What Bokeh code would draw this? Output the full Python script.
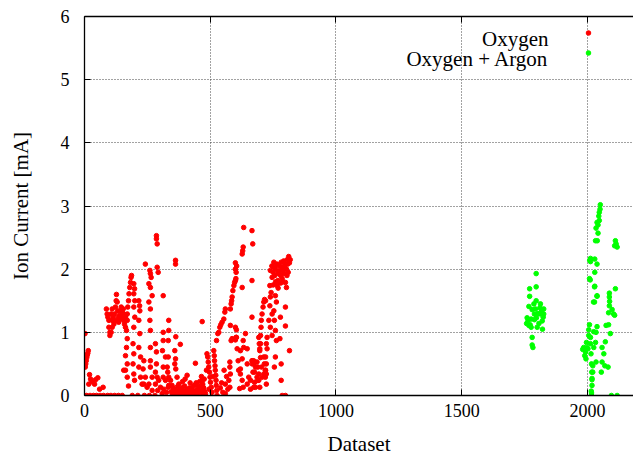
from bokeh.plotting import figure
from bokeh.models import Range1d, LinearAxis, Label, FixedTicker
from bokeh.embed import file_html
from bokeh.resources import INLINE

# ---------------- data ----------------
series_names = ["Oxygen", "Oxygen + Argon"]
x_ticks = [0, 500, 1000, 1500, 2000]
y_ticks = [0, 1, 2, 3, 4, 5, 6]

red_x = [
    0, 2, 3, 5, 7, 9, 11, 13, 15, 8, 17, 20, 22, 24, 30, 36, 40, 44, 48, 53, 60, 62, 74, 76,
    87, 90, 93, 97, 97, 101, 101, 106, 110, 110, 114, 117, 120, 123, 126, 127, 130, 132, 136, 140,
    143, 146, 150, 152, 156, 159, 156, 154, 110, 106, 136, 127, 143, 163, 163, 92, 105, 120, 135, 150,
    170, 172, 175, 177, 180, 183, 185, 187, 170, 167, 170, 167, 163, 170, 163, 170, 156, 175,
    196, 199, 196, 200, 196, 200, 196, 193, 196, 193, 196, 199, 190,
    216, 219, 220, 216, 220, 216, 223, 216, 223, 229, 212,
    236, 233, 242, 236, 249, 238,
    242, 256, 260, 262, 265, 262, 269, 256, 262, 260, 262, 262, 262, 262, 269, 256, 269, 258,
    286, 286, 289, 289, 293, 282, 286, 286, 282, 289, 282, 295, 302, 291, 280,
    313, 313, 313, 322, 331, 335, 315, 326, 309, 335, 335, 322, 329, 335, 342, 348, 333, 355,
    313, 313, 333, 363, 381, 359, 310, 333, 362, 359, 363, 408, 441, 468, 441, 362, 362,
    345, 350, 352, 358, 362, 366, 368, 370, 372, 375, 378, 380, 384, 388, 392, 396, 398, 402, 405,
    408, 412, 415, 418, 422, 425, 428, 432, 435, 438, 442, 444, 448, 452, 455, 458, 462, 465, 468,
    470, 474, 476, 478, 390, 420, 400,
    468, 472, 481, 487, 490, 492, 494, 497, 499, 501, 504, 507, 485, 495,
    514, 516, 517, 519, 520, 522, 523, 524, 526, 527, 510,
    525, 530, 534, 538, 542, 547, 554, 558, 560, 580, 583, 585, 587, 590, 594, 597, 600, 602,
    600, 603, 600, 605,
    580, 583, 578, 578, 580, 574, 578, 560, 560, 565, 570, 545, 550, 555, 540,
    604, 604, 600, 587,
    620, 627, 620, 620, 627, 631, 617, 633, 631, 640, 647, 647, 653, 647, 660, 666, 673, 670, 676,
    680, 660,
    627, 629, 631, 627, 633, 666, 669, 666, 666, 667, 667, 673, 680, 676, 686, 673,
    600, 603, 607, 611, 613,
    686, 689, 693, 693, 697, 689, 713, 715, 719, 719, 723, 713,
    697, 700, 700, 702, 703, 706, 710, 713, 716, 720,
    693, 695, 697, 700, 704, 706, 720, 723, 720, 723, 726, 723, 726,
    733, 737, 739, 742, 737, 746, 739, 753, 755, 746, 739, 746, 759, 763, 753, 755, 759, 763, 759, 755,
    766, 769, 773, 777, 782, 786, 792, 806, 812, 799, 803, 792, 786, 799, 803,
    799, 799, 779, 777, 782, 815, 782, 786, 799,
    745, 750, 757, 760, 765, 770, 775, 780, 790, 795, 808, 810, 750, 760, 770, 780, 790, 805, 815, 818,
]
red_y = [
    0.0, 0.98, 0.45, 0.5, 0.55, 0.6, 0.64, 0.67, 0.71, 0.0, 0.18, 0.33, 0.0, 0.26, 0.22, 0.0, 0.18, 0.25, 0.0, 0.28, 0.1, 0.0, 0.13, 0.0,
    1.37, 1.29, 1.24, 1.19, 1.08, 1.0, 0.95, 1.29, 1.37, 1.19, 1.24, 1.13, 1.29, 1.4, 1.5, 1.6, 1.48, 1.34, 1.24, 1.27,
    1.34, 1.4, 1.32, 1.24, 1.19, 1.13, 1.29, 1.37, 1.08, 1.0, 1.16, 1.19, 1.21, 1.08, 1.24, 0.0, 0.0, 0.0, 0.0, 0.0,
    1.29, 1.4, 1.5, 1.61, 1.71, 1.79, 1.87, 1.9, 1.19, 1.03, 0.9, 0.76, 0.63, 0.5, 0.4, 0.29, 0.4, 0.15,
    1.77, 1.69, 1.61, 1.5, 1.4, 1.24, 1.08, 0.82, 0.66, 0.5, 0.34, 0.24, 0.0,
    1.5, 1.42, 1.34, 1.19, 0.98, 0.76, 0.61, 0.45, 0.29, 0.18, 0.0,
    0.55, 0.42, 0.29, 0.18, 0.13, 0.0,
    2.08, 1.77, 1.98, 1.93, 1.87, 1.71, 1.58, 1.48, 1.37, 1.19, 1.03, 0.76, 0.55, 0.45, 0.29, 0.18, 0.08, 0.0,
    2.53, 2.48, 2.4, 2.03, 1.95, 0.82, 0.69, 0.5, 0.37, 0.29, 0.18, 0.24, 0.13, 0.08, 0.0,
    1.58, 0.45, 0.29, 0.24, 0.37, 0.16, 0.1, 0.05, 0.03, 1.19, 1.03, 0.61, 0.45, 0.29, 0.24, 0.16, 0.13, 0.1,
    1.0, 0.87, 0.87, 0.93, 0.81, 0.71, 0.71, 0.61, 0.58, 0.5, 0.42, 0.32, 0.51, 1.17, 0.17, 2.14, 2.08,
    0.06, 0.02, 0.12, 0.04, 0.08, 0.02, 0.29, 0.14, 0.05, 0.18, 0.0, 0.09, 0.03, 0.12, 0.05, 0.0, 0.15, 0.07, 0.02,
    0.1, 0.04, 0.0, 0.12, 0.06, 0.02, 0.09, 0.15, 0.03, 0.07, 0.0, 0.2, 0.1, 0.04, 0.14, 0.22, 0.08, 0.3, 0.03,
    0.18, 0.12, 0.26, 0.06, 0.22, 0.2, 0.26,
    0.24, 0.13, 0.03, 0.66, 0.61, 0.53, 0.45, 0.37, 0.29, 0.21, 0.13, 0.05, 0.4, 0.1,
    0.71, 0.63, 0.55, 0.47, 0.4, 0.32, 0.24, 0.16, 0.08, 0.0, 0.3,
    0.87, 0.98, 1.0, 1.08, 1.12, 1.16, 1.21, 1.32, 1.37, 1.37, 1.45, 1.5, 1.56, 1.66, 1.74, 1.79, 1.82, 1.85,
    2.0, 1.95, 2.1, 2.05,
    1.11, 0.87, 0.53, 0.45, 0.34, 0.24, 0.13, 0.18, 0.03, 0.3, 0.1, 0.2, 0.05, 0.4, 0.12,
    1.04, 0.92, 0.88, 0.9,
    0.71, 0.58, 0.42, 0.34, 0.24, 0.13, 0.11, 0.76, 0.87, 0.98, 0.74, 0.5, 0.29, 0.18, 0.24, 0.55, 0.5, 0.37, 0.21,
    0.13, 0.1,
    1.71, 2.29, 2.35, 2.24, 2.66, 2.61, 2.4, 1.82, 1.24, 0.55, 0.5, 0.55, 0.45, 0.37, 0.29, 0.13,
    1.08, 0.92, 0.74, 0.55, 0.4,
    0.53, 0.45, 0.34, 0.24, 0.13, 0.24, 0.61, 0.5, 0.4, 0.29, 0.18, 0.34,
    0.71, 0.82, 0.95, 1.08, 1.19, 1.29, 1.4, 1.48, 1.52, 1.5,
    0.92, 0.82, 0.74, 0.6, 0.45, 0.29, 0.61, 0.5, 0.4, 0.34, 0.92, 0.82, 0.74,
    1.19, 1.42, 1.56, 1.63, 1.74, 1.87, 1.98, 2.11, 2.03, 1.29, 1.08, 0.95, 1.58, 1.48, 1.34, 1.19, 1.03, 0.87, 0.61, 0.45,
    1.74, 1.82, 1.93, 1.98, 2.11, 2.03, 2.13, 2.15, 2.2, 2.08, 2.0, 1.93, 1.85, 1.79, 1.71,
    1.4, 1.1, 1.24, 0.9, 0.5, 0.71, 0.24, 0.0, 0.0,
    2.05, 1.95, 1.9, 2.0, 2.08, 1.95, 2.05, 1.9, 1.98, 2.05, 2.08, 1.95, 1.75, 1.8, 1.7, 1.78, 1.8, 1.9, 2.1, 2.15,
]

green_x = [
    1796, 1770, 1796, 1770, 1796, 1787, 1767, 1813, 1780, 1793, 1811, 1826, 1789, 1813, 1826, 1760, 1776,
    1797, 1824, 1758, 1789, 1820, 1776, 1800, 1821, 1767, 1807, 1780, 1780, 1783, 1764, 1772, 1803, 1817,
    2051, 2050, 2047, 2045, 2047, 2038, 2042, 2034, 2042, 2032, 2039, 2111, 2114, 2118, 2108,
    2012, 2012, 2029, 2038, 2029, 2008, 2029, 2038, 2028, 2087, 2111, 2087, 2088, 2087, 2098, 2084, 2104, 2108,
    2008, 2005, 2025, 2034, 2038, 2074, 2084, 2091, 2005, 1996, 2032, 2071, 1985, 1981, 1992, 1989, 1994,
    1998, 2025, 2058, 2065, 2034, 2058, 2069, 2082, 2021, 2021, 2055, 2018, 2018, 2016, 2016, 2095, 2118,
    2002, 2009, 2011, 2028, 2024, 2038, 2012, 2012, 2014, 2016, 2017, 2018, 2015,
]
green_y = [
    1.93, 1.69, 1.72, 1.57, 1.5, 1.45, 1.41, 1.45, 1.36, 1.37, 1.39, 1.37, 1.29, 1.29, 1.29, 1.23, 1.21,
    1.23, 1.24, 1.14, 1.2, 1.18, 1.08, 1.08, 1.05, 1.11, 1.14, 0.92, 0.8, 0.76, 1.19, 1.12, 1.3, 1.33,
    3.02, 2.95, 2.9, 2.84, 2.77, 2.74, 2.7, 2.65, 2.57, 2.45, 2.45, 2.45, 2.4, 2.35, 2.37,
    2.17, 2.12, 2.16, 2.08, 1.95, 1.85, 1.73, 1.58, 1.48, 1.62, 1.69, 1.56, 1.49, 1.42, 1.36, 1.31, 1.29, 1.27,
    1.12, 1.04, 1.01, 1.0, 1.09, 1.11, 1.12, 0.98, 0.95, 0.84, 0.84, 0.85, 0.76, 0.73, 0.69, 0.63, 0.58,
    0.76, 0.76, 0.76, 0.66, 0.53, 0.53, 0.47, 0.45, 0.47, 0.37, 0.37, 0.27, 0.16, 0.04, 0.0, 0.0, 0.0,
    0.74, 2.14, 1.83, 1.72, 1.48, 1.57, 0.92, 0.82, 0.66, 0.5, 0.37, 0.25, 0.07,
]

# ---------------- geometry of the frame (pixels) ----------------
FRAME_L, FRAME_R, FRAME_T, FRAME_B = 84, 633, 16, 395
X_END = 2183.0
Y_END = 6.0

def px_to_x(px):
    return X_END * (px - FRAME_L) / (FRAME_R - FRAME_L)

def py_to_y(py):
    return Y_END * (FRAME_B - py) / (FRAME_B - FRAME_T)

FONT = "Liberation Serif"

p = figure(width=633, height=458, output_backend="svg", toolbar_location=None,
           x_range=Range1d(0, X_END), y_range=Range1d(0, Y_END),
           min_border_left=FRAME_L, min_border_right=0,
           min_border_top=FRAME_T, min_border_bottom=458 - FRAME_B,
           x_axis_label="Dataset", y_axis_label="Ion Current [mA]")
p.outline_line_color = None
p.background_fill_color = "white"
p.border_fill_color = "white"

bottom = p.below[0]
left = p.left[0]
bottom.ticker = FixedTicker(ticks=x_ticks)
left.ticker = FixedTicker(ticks=y_ticks)

top = LinearAxis(ticker=FixedTicker(ticks=x_ticks), major_label_standoff=0,
                 major_label_overrides={t: "" for t in x_ticks})
p.add_layout(top, "above")

for ax in (bottom, left, top):
    ax.major_tick_in = 6
    ax.major_tick_out = 0
    ax.minor_tick_line_color = None
    ax.axis_line_color = "black"
    ax.axis_line_width = 1.3
    ax.major_tick_line_color = "black"
    ax.major_label_text_font = FONT
    ax.major_label_text_color = "black"
    ax.axis_label_text_font = FONT
    ax.axis_label_text_font_style = "normal"
    ax.axis_label_text_color = "black"

top.major_label_text_font_size = "1px"

bottom.major_label_text_font_size = "18px"
bottom.major_label_standoff = 8
bottom.axis_label_text_font_size = "21px"
bottom.axis_label_standoff = 12
left.major_label_text_font_size = "18px"
left.major_label_standoff = 15
left.axis_label_text_font_size = "21px"
left.axis_label_standoff = 25

for g in (p.xgrid[0], p.ygrid[0]):
    g.grid_line_color = "#444444"
    g.grid_line_dash = "1 2"
    g.grid_line_width = 1
p.xgrid[0].ticker = FixedTicker(ticks=x_ticks)
p.ygrid[0].ticker = FixedTicker(ticks=y_ticks)

p.scatter(red_x, red_y, marker="circle", size=4.6, fill_color="#ff0000", line_color="#ff0000")
p.scatter(green_x, green_y, marker="circle", size=4.6, fill_color="#00ff00", line_color="#00ff00")

# key (gnuplot style: text right-aligned, sample on the right)
key_colors = ["#ff0000", "#00ff00"]
key_text_baseline_px = [38, 58]
key_dot_px = [32.5, 52.5]
for name, col, tb, dp in zip(series_names, key_colors, key_text_baseline_px, key_dot_px):
    p.add_layout(Label(x=px_to_x(548), y=py_to_y(tb), text=name, text_align="right",
                       text_baseline="alphabetic", text_font=FONT, text_font_size="21px",
                       text_color="black"))
    p.scatter([px_to_x(588)], [py_to_y(dp)], marker="circle", size=4.6,
              fill_color=col, line_color=col)

open("out.html", "w").write(file_html(p, INLINE))
